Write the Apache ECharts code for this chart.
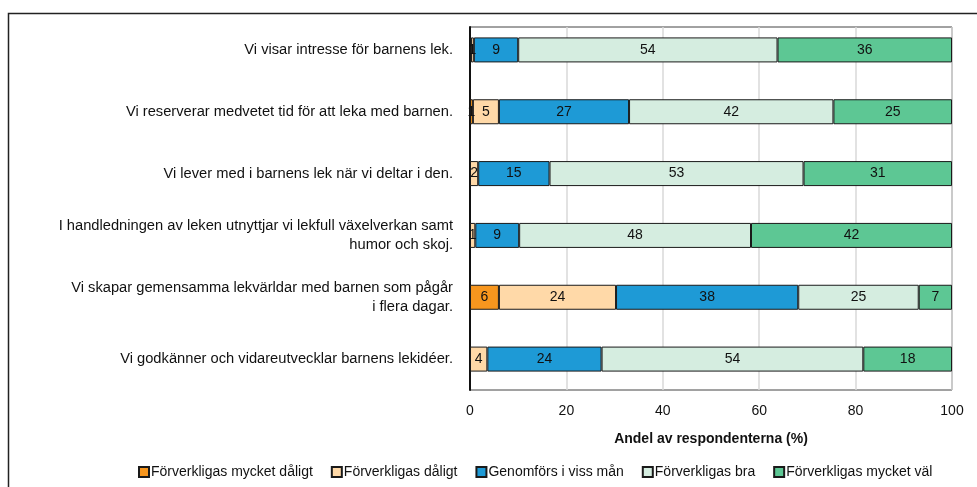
<!DOCTYPE html>
<html>
<head>
<meta charset="utf-8">
<script src="https://cdn.jsdelivr.net/npm/echarts@6/dist/echarts.min.js"></script>
<style>html,body{margin:0;padding:0;background:#fff}#c{width:977px;height:487px}</style>
</head>
<body>
<div id="c"></div>
<script>
const categories = [
  "Vi visar intresse för barnens lek.",
  "Vi reserverar medvetet tid för att leka med barnen.",
  "Vi lever med i barnens lek när vi deltar i den.",
  "I handledningen av leken utnyttjar vi lekfull växelverkan samt\nhumor och skoj.",
  "Vi skapar gemensamma lekvärldar med barnen som pågår\ni flera dagar.",
  "Vi godkänner och vidareutvecklar barnens lekidéer."
];
const seriesNames = ["Förverkligas mycket dåligt", "Förverkligas dåligt", "Genomförs i viss mån", "Förverkligas bra", "Förverkligas mycket väl"];
const mycketDaligt = [0.2, 0.6, 0, 0, 6.0, 0];
const daligt = [0.6, 5.4, 1.7, 1.1, 24.3, 3.6];
const vissMan = [9.2, 27.0, 14.8, 9.1, 37.8, 23.7];
const bra = [53.8, 42.4, 52.7, 48.1, 25.0, 54.3];
const mycketVal = [36.2, 24.6, 30.8, 41.7, 6.9, 18.4];
const xTicks = [0, 20, 40, 60, 80, 100];
const colors = ["#F7961E", "#FFD9A8", "#1E9AD6", "#D5EDE0", "#5DC794"];

const FONT = "'Liberation Sans', Arial, sans-serif";
const allData = [mycketDaligt, daligt, vissMan, bra, mycketVal];

const chart = echarts.init(document.getElementById('c'), null, {renderer: 'canvas'});
chart.setOption({
  animation: false,
  textStyle: {fontFamily: FONT},
  graphic: [{
    type: 'rect', z: 0,
    shape: {x: 8.5, y: 13.5, width: 1000, height: 500},
    style: {fill: 'none', stroke: '#222', lineWidth: 1.5}
  }],
  legend: {
    left: 133, top: 460,
    itemWidth: 10, itemHeight: 10, itemGap: 18,
    icon: 'rect',
    textStyle: {fontSize: 14, color: '#111', fontFamily: FONT, padding: [0, 0, 0, -3]},
    data: seriesNames
  },
  grid: [
    {left: 470, width: 482, top: 27, height: 363, show: true, borderColor: '#444', borderWidth: 1, backgroundColor: 'transparent'},
    {left: 470, width: 482, top: 19, height: 371}
  ],
  xAxis: [
    {
      gridIndex: 0, type: 'value', min: xTicks[0], max: xTicks[xTicks.length - 1], interval: 20,
      axisLine: {show: false}, axisTick: {show: false},
      splitLine: {show: true, lineStyle: {color: '#d9d9d9', width: 1.5}},
      axisLabel: {fontSize: 14, color: '#111', margin: 14, fontFamily: FONT},
      name: 'Andel av respondenterna (%)', nameLocation: 'middle', nameGap: 42,
      nameTextStyle: {fontSize: 14, fontWeight: 'bold', color: '#111', fontFamily: FONT}
    },
    {
      gridIndex: 1, type: 'value', min: 0, max: 100, show: false
    }
  ],
  yAxis: [
    {
      gridIndex: 0, type: 'value', min: 0, max: 1,
      axisLine: {show: true, lineStyle: {color: '#111', width: 2}},
      axisTick: {show: false}, axisLabel: {show: false}, splitLine: {show: false}
    },
    {
      gridIndex: 1, type: 'category', inverse: true, data: categories,
      axisLine: {show: false}, axisTick: {show: false},
      axisLabel: {fontSize: 14.7, color: '#111', margin: 17, lineHeight: 19, align: 'right', fontFamily: FONT}
    }
  ],
  series: seriesNames.map((name, i) => ({
    name: name, type: 'bar', stack: 'total',
    xAxisIndex: 1, yAxisIndex: 1,
    barWidth: 25,
    itemStyle: {color: colors[i], borderColor: '#1a1a1a', borderWidth: 1},
    label: {
      show: true, position: 'inside', fontSize: 14, color: '#111', fontFamily: FONT,
      formatter: p => { const r = Math.round(p.value); return r > 0 ? String(r) : ''; }
    },
    data: allData[i].map(v => v === 0 ? null : v)
  }))
});
</script>
</body>
</html>
